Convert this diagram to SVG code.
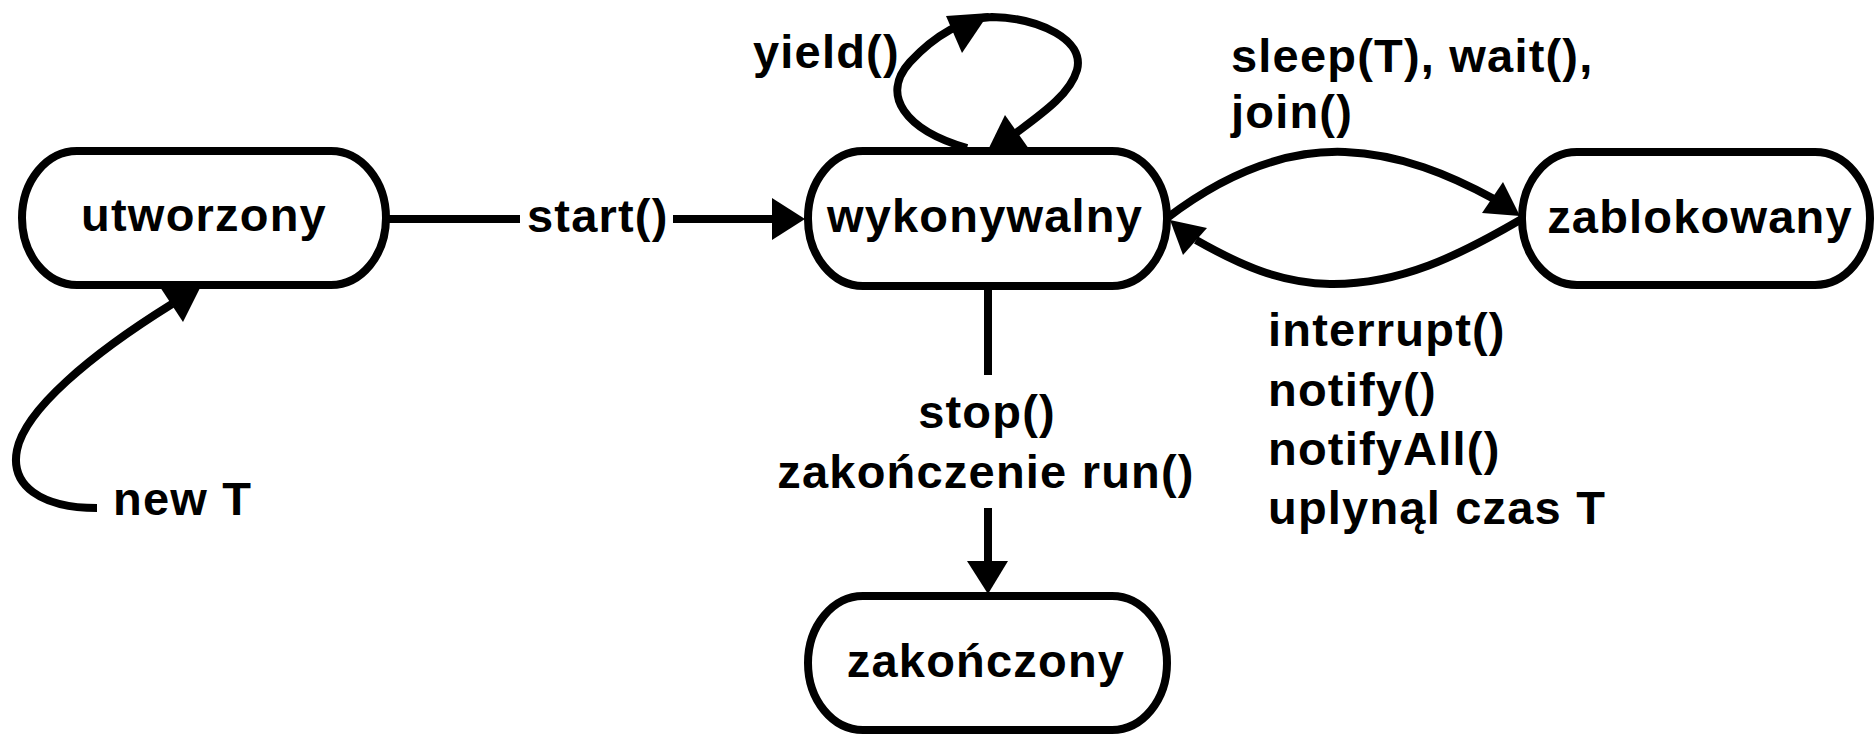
<svg xmlns="http://www.w3.org/2000/svg" width="1874" height="734" viewBox="0 0 1874 734">
<style>
.node{fill:#fff;stroke:#000;stroke-width:8}
.edge{fill:none;stroke:#000;stroke-width:8}
.head{fill:#000;stroke:none}
text{font-family:"Liberation Sans",Arial,sans-serif;font-weight:bold;font-size:47px;letter-spacing:1.2px;fill:#000}
.c{text-anchor:middle}
</style>
<rect width="1874" height="734" fill="#fff"/>
<g id="connectors">
  <path class="edge" d="M386,219 H520"/>
  <path class="edge" d="M673,219 H775"/>
  <polygon class="head" points="805,219 772,198 772,240"/>
  <path class="edge" d="M988,286 V375"/>
  <path class="edge" d="M988,508 V565"/>
  <polygon class="head" points="988,594 967,561 1008,561"/>
  <path class="edge" d="M967,148 C905,130 880,95 910,62 C935,35 965,18 992,17 C1040,18 1085,40 1077,70 C1070,95 1040,115 1012,136"/>
  <polygon class="head" points="946,16 989,13 962,53"/>
  <polygon class="head" points="987,152 1005,115 1029,149"/>
  <path class="edge" d="M1167,218 C1230,170 1290,150 1345,152 C1400,154 1450,175 1494,199"/>
  <polygon class="head" points="1520,216 1503,182 1482,213"/>
  <path class="edge" d="M1520,220 C1460,255 1400,285 1330,284 C1280,283 1240,265 1196,240"/>
  <polygon class="head" points="1170,220 1207,228 1183,255"/>
  <path class="edge" d="M97,508 C40,508 10,485 17,450 C25,410 90,355 172,304"/>
  <polygon class="head" points="202,284 160,287 183,322"/>
  <text x="527" y="232">start()</text>
  <text x="753" y="68">yield()</text>
  <text x="1231" y="72">sleep(T), wait(),</text>
  <text x="1231" y="128">join()</text>
  <text x="1268" y="346">interrupt()</text>
  <text x="1268" y="406">notify()</text>
  <text x="1268" y="465">notifyAll()</text>
  <text x="1268" y="524">uplynąl czas T</text>
  <text class="c" x="987" y="428">stop()</text>
  <text class="c" x="986" y="488">zakończenie run()</text>
  <text x="113" y="515">new T</text>
</g>
<g id="utworzony">
  <rect class="node" x="22" y="151" width="364" height="134" rx="55" ry="67"/>
  <text class="c" x="204" y="231">utworzony</text>
</g>
<g id="wykonywalny">
  <rect class="node" x="808" y="151" width="359" height="135" rx="55" ry="67"/>
  <text class="c" x="985" y="232">wykonywalny</text>
</g>
<g id="zablokowany">
  <rect class="node" x="1522" y="152" width="348" height="133" rx="55" ry="66"/>
  <text class="c" x="1700" y="233">zablokowany</text>
</g>
<g id="zakonczony">
  <rect class="node" x="808" y="596" width="359" height="134" rx="55" ry="67"/>
  <text class="c" x="986" y="677">zakończony</text>
</g>
</svg>
